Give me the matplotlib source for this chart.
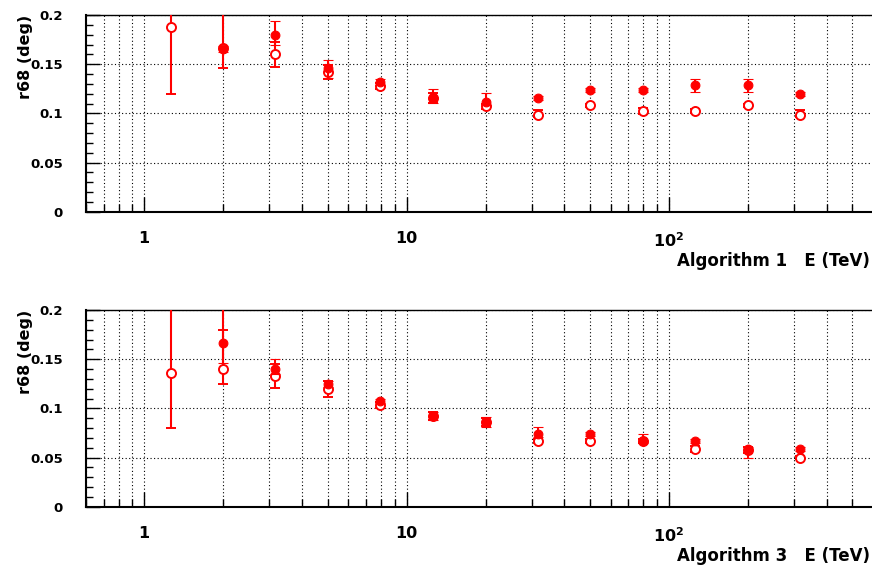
#!/usr/bin/env python

import numpy as np
import matplotlib
matplotlib.use('Agg')
import matplotlib.pyplot as plt
from matplotlib.ticker import LogLocator, MultipleLocator, FixedLocator, FixedFormatter, NullFormatter, FuncFormatter

nan = np.nan

# energy bin centres (TeV)
energy = [1.26, 2.0, 3.16, 5.01, 7.94, 12.6, 20.0, 31.6, 50.1, 79.4, 126.0, 200.0, 316.0]

# Algorithm 1
alg1_open = [0.188, 0.166, 0.160, 0.142, 0.128, 0.116, 0.107, 0.098, 0.108, 0.102, 0.102, 0.108, 0.098]
alg1_open_lo = [0.068, 0.0195, 0.013, 0.007, 0.003, 0.005, 0.003, 0.002, 0.002, 0.003, 0.002, 0.002, 0.002]
alg1_open_hi = [0.070, 0.040, 0.013, 0.007, 0.003, 0.005, 0.003, 0.005, 0.002, 0.003, 0.002, 0.002, 0.005]
alg1_full = [nan, 0.165, 0.180, 0.146, 0.132, 0.116, 0.112, 0.116, 0.124, 0.124, 0.129, 0.129, 0.120]
alg1_full_lo = [nan, 0.003, 0.011, 0.010, 0.003, 0.005, 0.004, 0.002, 0.002, 0.002, 0.007, 0.007, 0.002]
alg1_full_hi = [nan, 0.003, 0.0136, 0.008, 0.003, 0.0085, 0.009, 0.002, 0.002, 0.002, 0.006, 0.006, 0.002]

# Algorithm 3
alg3_open = [0.136, 0.140, 0.133, 0.120, 0.103, 0.092, 0.086, 0.067, 0.067, 0.067, 0.059, 0.058, 0.050]
alg3_open_lo = [0.056, 0.015, 0.012, 0.008, 0.003, 0.004, 0.004, 0.002, 0.002, 0.002, 0.003, 0.003, 0.002]
alg3_open_hi = [0.070, 0.040, 0.012, 0.008, 0.003, 0.004, 0.004, 0.002, 0.002, 0.002, 0.003, 0.003, 0.002]
alg3_full = [nan, 0.166, 0.140, 0.1245, 0.107, 0.092, 0.0865, 0.074, 0.074, 0.067, 0.067, 0.059, 0.059]
alg3_full_lo = [nan, 0.0195, 0.005, 0.003, 0.002, 0.004, 0.005, 0.003, 0.002, 0.002, 0.002, 0.009, 0.002]
alg3_full_hi = [nan, 0.050, 0.010, 0.003, 0.002, 0.004, 0.005, 0.0067, 0.002, 0.0068, 0.002, 0.002, 0.002]

x_tick_vals = [1, 10, 100]
x_tick_labels = ['1', '10', r'$\mathbf{10^{2}}$']
panel_labels = ['Algorithm 1   E (TeV)', 'Algorithm 3   E (TeV)']

W, H = 872, 565


def draw_panel(ax, y_open, open_lo, open_hi, y_full, full_lo, full_hi, label):
    red = '#ff0000'
    ax.errorbar(energy, y_open, yerr=[open_lo, open_hi], fmt='o', color=red,
                mfc='white', mec=red, ms=6.5, mew=1.4, elinewidth=1.5,
                capsize=3.6, capthick=1.5, zorder=3)
    ax.errorbar(energy, y_full, yerr=[full_lo, full_hi], fmt='o', color=red,
                mfc=red, mec=red, ms=6.3, mew=0.8, elinewidth=1.5,
                capsize=3.6, capthick=1.5, zorder=4)

    ax.set_xscale('log')
    ax.set_xlim(0.6, 600)
    ax.set_ylim(0, 0.2)

    ax.xaxis.set_major_locator(FixedLocator(x_tick_vals))
    ax.xaxis.set_major_formatter(FixedFormatter(x_tick_labels))
    ax.xaxis.set_minor_locator(LogLocator(base=10, subs=np.arange(2, 10), numticks=20))
    ax.xaxis.set_minor_formatter(NullFormatter())
    ax.yaxis.set_major_locator(MultipleLocator(0.05))
    ax.yaxis.set_minor_locator(MultipleLocator(0.01))
    ax.yaxis.set_major_formatter(FuncFormatter(lambda v, p: f'{v:g}'))

    ax.tick_params(axis='x', which='both', direction='in', top=False, pad=14,
                   labelsize=11.5, width=1.0)
    ax.tick_params(axis='x', which='major', length=11)
    ax.tick_params(axis='x', which='minor', length=6)
    ax.tick_params(axis='y', which='both', direction='in', right=False, pad=16.5,
                   labelsize=9.5, width=1.0)
    ax.tick_params(axis='y', which='major', length=10)
    ax.tick_params(axis='y', which='minor', length=5)
    for t in ax.get_xticklabels() + ax.get_yticklabels():
        t.set_fontweight('bold')

    grid_style = dict(color='black', linestyle=(0, (1, 2.2)), linewidth=0.8)
    ax.grid(True, axis='x', which='both', **grid_style)
    ax.grid(True, axis='y', which='major', **grid_style)
    ax.set_axisbelow(True)

    ax.spines['left'].set_linewidth(1.5)
    ax.spines['bottom'].set_linewidth(1.5)
    ax.spines['top'].set_linewidth(1.0)
    ax.spines['right'].set_visible(False)

    ax.set_ylabel('r68 (deg)', fontsize=11.5, fontweight='bold', loc='top')
    ax.yaxis.set_label_coords(-0.067, 1.0)

    ax.text((870 - 86) / 787, -0.277, label, transform=ax.transAxes,
            ha='right', va='baseline', fontsize=12, fontweight='bold')


def main():
    plt.rcParams['font.family'] = ['DejaVu Sans']
    plt.rcParams['mathtext.fontset'] = 'dejavusans'

    fig = plt.figure(figsize=(W / 100, H / 100), dpi=100)

    left = 86 / W
    width = 787 / W
    ax1 = fig.add_axes([left, (H - 211.7) / H, width, 196.7 / H])
    ax2 = fig.add_axes([left, (H - 506.7) / H, width, 196.7 / H])

    draw_panel(ax1, alg1_open, alg1_open_lo, alg1_open_hi,
               alg1_full, alg1_full_lo, alg1_full_hi, panel_labels[0])
    draw_panel(ax2, alg3_open, alg3_open_lo, alg3_open_hi,
               alg3_full, alg3_full_lo, alg3_full_hi, panel_labels[1])

    fig.savefig('out.png', dpi=100)


if __name__ == "__main__":
    main()
